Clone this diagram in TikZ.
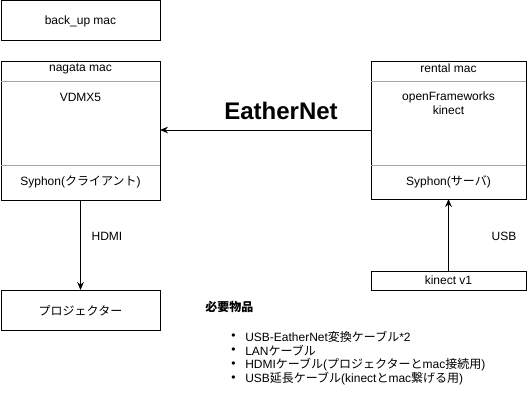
\documentclass[tikz,border=0pt]{standalone}
\usepackage{fontspec}
\setmainfont{Liberation Sans}
\newfontfamily\jp{Noto Sans CJK JP}
\usetikzlibrary{arrows.meta}
\begin{document}
\begin{tikzpicture}[x=0.75pt,y=-0.75pt,
  box/.style={draw=black, line width=0.75pt, inner sep=0, outer sep=0},
  sepline/.style={draw=gray!70, line width=0.6pt},
  lbl/.style={font=\fontsize{9}{10.5}\selectfont, inner sep=0, align=center},
  conn/.style={draw=black, line width=0.75pt, -{Stealth[length=6pt,width=5pt]}},
  item/.style={font=\fontsize{9}{10.5}\selectfont, inner sep=0, anchor=west}]
\useasboundingbox (0,0) rectangle (531,401);
% boxes
\node[box, minimum width=119.25pt, minimum height=29.6pt] (backup) at (80.5,20.3) {};
\node[box, minimum width=119.25pt, minimum height=104.25pt] (nagata) at (80.5,130.5) {};
\node[box, minimum width=116.25pt, minimum height=103.5pt] (rental) at (448.5,130) {};
\node[box, minimum width=119.25pt, minimum height=30pt] (proj) at (80.5,310) {};
\node[box, minimum width=116.25pt, minimum height=14.25pt] (kinect) at (448.5,280.5) {};
% separators
\draw[sepline] (nagata.north west) ++(0,20) -- ++(159,0);
\draw[sepline] (nagata.north west) ++(0,104) -- ++(159,0);
\draw[sepline] (rental.north west) ++(0,20) -- ++(155,0);
\draw[sepline] (rental.north west) ++(0,104) -- ++(155,0);
% texts
\node[lbl] (tbackup) at (80.5,21.5) {back\_up mac};
\node[lbl] (tnagata) at (80.5,69) {nagata mac};
\node[lbl] (tvdmx) at (80.5,97) {VDMX5};
\node[lbl] (tsyc) at (80.5,181.5) {Syphon({\jp クライアント})};
\node[lbl] (trental) at (448.5,68.5) {rental mac};
\node[lbl] (tof) at (448.5,103.5) {openFrameworks\\kinect};
\node[lbl] (tsys) at (448.5,181.5) {Syphon({\jp サーバ})};
\node[lbl] (tproj) at (80.5,311) {\jp プロジェクター};
\node[lbl] (tkin) at (448.5,280.5) {kinect v1};
% connectors
\draw[conn] (rental.west |- 0,130) coordinate (ethA) -- (nagata.east |- ethA);
\node[font=\bfseries\fontsize{18}{20}\selectfont, inner sep=0] (teth) at (281,110.5) {EatherNet};
\draw[conn] (nagata.south) -- (proj.north);
\node[lbl] (thdmi) at (107,236) {HDMI};
\draw[conn] (kinect.north) -- (rental.south);
\node[lbl] (tusb) at (504,236) {USB};
% list
\node[item, font=\bfseries\fontsize{9}{10.5}\selectfont\jp] (needed) at (205,307) {必要物品};
\node[item] (b1) at (231,337) {•};
\node[item] (i1) at (245,337) {USB-EatherNet{\jp 変換ケーブル}*2};
\node[item] (b2) at (231,351) {•};
\node[item] (i2) at (245,351) {LAN{\jp ケーブル}};
\node[item] (b3) at (231,365) {•};
\node[item] (i3) at (245,365) {HDMI{\jp ケーブル}({\jp プロジェクターと}mac{\jp 接続用})};
\node[item] (b4) at (231,379) {•};
\node[item] (i4) at (245,379) {USB{\jp 延長ケーブル}(kinect{\jp と}mac{\jp 繋げる用})};
\end{tikzpicture}
\end{document}
